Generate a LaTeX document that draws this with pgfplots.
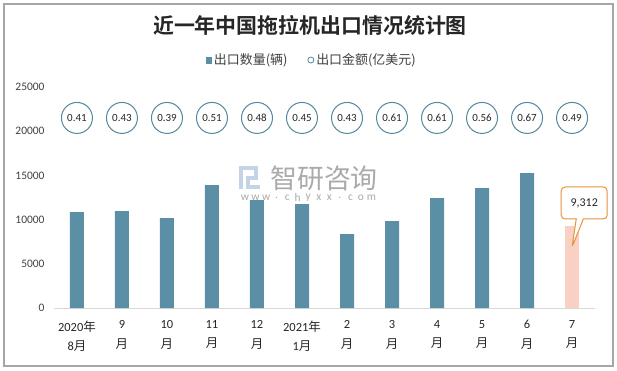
\documentclass[border=0pt]{standalone}
\usepackage{pgfplots}
\pgfplotsset{compat=1.18}
\usepackage{fontspec}
\setmainfont{Carlito}
\newfontfamily\cjk{Noto Sans CJK SC}
\newfontfamily\titlefont{Noto Sans CJK SC Bold}
\usetikzlibrary{shapes.callouts}
\definecolor{barc}{RGB}{91,143,166}
\definecolor{circc}{RGB}{84,136,158}
\definecolor{pinkc}{RGB}{248,208,196}
\definecolor{orangec}{RGB}{232,146,58}
\definecolor{framec}{RGB}{166,166,166}
\definecolor{axisc}{RGB}{217,217,217}
\definecolor{txt}{RGB}{38,38,38}
\definecolor{ytxt}{RGB}{64,64,64}
\definecolor{wmc}{RGB}{170,170,170}
\definecolor{logoc}{RGB}{196,212,232}
\begin{document}
\begin{tikzpicture}[x=1bp,y=1bp]
\path[use as bounding box] (0,0) rectangle (617,370);
\fill[white] (0,0) rectangle (617,370);
\draw[framec, line width=1.3bp] (4,4) rectangle (613,366);
\node[font=\titlefont\fontsize{21}{22}\selectfont, text=txt] at (310,345) {近一年中国拖拉机出口情况统计图};
% watermark
\fill[logoc] (239,181) rectangle (243,204);
\fill[logoc] (239,200) rectangle (258,204);
\fill[logoc] (254,190) rectangle (258,204);
\fill[logoc] (246,190) rectangle (258,194);
\fill[logoc] (246,181) rectangle (260,185);
\fill[logoc] (246,185) rectangle (250,190);
\node[text=wmc, font=\cjk\fontsize{27}{27}\selectfont] at (324,192) {智研咨询};
\foreach \c [count=\i] in {w,w,w,.,c,h,y,x,x,.,c,o,m}
  \node[text=wmc, font=\fontsize{11.5}{11.5}\selectfont] at (234.5+10.54*\i,172) {\c};
\begin{axis}[
  at={(54bp,62bp)}, anchor=south west,
  scale only axis, width=541bp, height=221bp,
  xmin=-0.51, xmax=11.51, ymin=0, ymax=25000,
  axis x line*=bottom, axis y line*=left,
  x axis line style={draw=axisc, line width=0.8bp, -},
  y axis line style={draw=none},
  xtick={0,...,11},
  xticklabels={{2020{\cjk 年}\\8{\cjk 月}},{9\\{\cjk 月}},{10\\{\cjk 月}},{11\\{\cjk 月}},{12\\{\cjk 月}},{2021{\cjk 年}\\1{\cjk 月}},{2\\{\cjk 月}},{3\\{\cjk 月}},{4\\{\cjk 月}},{5\\{\cjk 月}},{6\\{\cjk 月}},{7\\{\cjk 月}}},
  x tick label style={font=\fontsize{12.5}{19.5}\selectfont, text=txt, align=center, anchor=north, yshift=-9bp},
  ytick={0,5000,...,25000},
  y tick label style={font=\fontsize{11.5}{12}\selectfont, text=ytxt, xshift=-6bp},
  major tick length=0pt,
  tick style={draw=none},
  /pgf/number format/assume math mode=true,
  /pgf/number format/1000 sep={},
  scaled y ticks=false,
  clip=false,
  legend columns=2,
  legend style={draw=none, fill=none, at={(0.477,1.122)}, anchor=center,
    font=\cjk\fontsize{13}{13}\selectfont, text=ytxt,
    /tikz/every even column/.append style={column sep=18bp}},
  legend cell align=left,
]
\addplot[ybar, bar width=14bp, bar shift=0pt, fill=barc, draw=none,
  legend image code/.code={\fill[barc] (0bp,-3.5bp) rectangle (5.5bp,3.5bp);}] table {
x y
0 10850
1 10970
2 10180
3 13910
4 12215
5 11760
6 8370
7 9840
8 12440
9 13570
10 15270
};
\addlegendentry{出口数量(辆)}
\addplot[ybar, bar width=14bp, bar shift=0pt, fill=pinkc, draw=none, forget plot] table {
x y
11 9312
};
\addplot[only marks, mark=*, mark size=15.5bp,
  mark options={draw=circc, fill=white, line width=1bp},
  legend image code/.code={\draw[circc, line width=0.8bp, fill=white] (3bp,0) circle (3bp);},
  point meta=explicit symbolic, nodes near coords,
  nodes near coords style={anchor=center, font=\fontsize{11}{11}\selectfont, text=txt}]
  table[meta=v] {
x y v
0 21500 0.41
1 21500 0.43
2 21500 0.39
3 21500 0.51
4 21500 0.48
5 21500 0.45
6 21500 0.43
7 21500 0.61
8 21500 0.61
9 21500 0.56
10 21500 0.67
11 21500 0.49
};
\addlegendentry{出口金额(亿美元)}
\node[rectangle callout, draw=orangec, line width=1bp, rounded corners=4bp, fill=white,
  minimum width=46bp, minimum height=32bp, inner sep=0pt,
  callout absolute pointer={(axis cs:11,6900)},
  font=\fontsize{12}{12}\selectfont, text=txt] at (axis cs:11.27,11880) {9,312};
\end{axis}
\end{tikzpicture}
\end{document}
